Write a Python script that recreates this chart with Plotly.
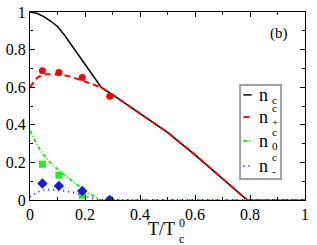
import plotly.graph_objects as go

# curves
T_c = [0, 0.025, 0.05, 0.075, 0.1, 0.125, 0.15, 0.175, 0.2, 0.23, 0.26, 0.3, 0.35, 0.4, 0.473, 0.5, 0.6, 0.7, 0.79, 0.9, 1.0]
n_c = [1.0, 0.993, 0.975, 0.952, 0.923, 0.878, 0.826, 0.774, 0.719, 0.66, 0.598, 0.56, 0.51, 0.46, 0.39, 0.36, 0.24, 0.115, 0.0, 0.0, 0.0]

T_p = [0, 0.01, 0.02, 0.03, 0.04, 0.06, 0.08, 0.1, 0.12, 0.15, 0.2, 0.26, 0.3, 0.35, 0.4, 0.473, 0.5, 0.6, 0.7, 0.79, 0.9, 1.0]
n_p = [0.6, 0.623, 0.64, 0.654, 0.663, 0.669, 0.67, 0.668, 0.665, 0.655, 0.63, 0.598, 0.56, 0.51, 0.46, 0.39, 0.36, 0.24, 0.115, 0.0, 0.0, 0.0]

T_0 = [0, 0.01, 0.02, 0.035, 0.05, 0.075, 0.1, 0.125, 0.15, 0.175, 0.2, 0.23, 0.255, 0.4, 0.6, 0.8, 1.0]
n_0 = [0.37, 0.335, 0.31, 0.27, 0.24, 0.197, 0.163, 0.132, 0.105, 0.077, 0.05, 0.022, 0.0, 0.0, 0.0, 0.0, 0.0]

T_m = [0, 0.015, 0.03, 0.05, 0.07, 0.1, 0.15, 0.2, 0.25, 0.4, 0.6, 0.8, 1.0]
n_m = [0.017, 0.033, 0.045, 0.052, 0.055, 0.053, 0.043, 0.02, 0.0, 0.0, 0.0, 0.0, 0.0]

# simulation points
T_pts = [0.045, 0.105, 0.19, 0.29]
p_pts = [0.687, 0.678, 0.652, 0.552]
z_pts = [0.19, 0.132, 0.025, 0.0]
m_pts = [0.088, 0.075, 0.048, 0.0]

x_ticks = [0, 0.2, 0.4, 0.6, 0.8, 1]
x_labels = ["0", "0.2", "0.4", "0.6", "0.8", "1"]
y_ticks = [0, 0.2, 0.4, 0.6, 0.8, 1]
y_labels = ["0", "0.2", "0.4", "0.6", "0.8", "1"]

# legend entries: (main, superscript, subscript)
legend_labels = [("n", "", "c"), ("n", "c", "+"), ("n", "c", "0"), ("n", "c", "-")]
colors = ["black", "red", "#22ee22", "#2222ee"]
dashes = ["solid", "6px,4px", "4px,2px,1px,2px", "1px,4px"]
widths = [1.5, 2, 2, 2]

FONT = "Liberation Serif"
fig = go.Figure()

for T, n, c, d, w in zip([T_c, T_p, T_0, T_m], [n_c, n_p, n_0, n_m], colors, dashes, widths):
    fig.add_trace(go.Scatter(x=T, y=n, mode="lines", showlegend=False,
                             line=dict(color=c, width=w, dash=d)))

fig.add_trace(go.Scatter(x=T_pts, y=p_pts, mode="markers", showlegend=False,
                         marker=dict(color="red", size=7, symbol="circle")))
fig.add_trace(go.Scatter(x=T_pts, y=z_pts, mode="markers", showlegend=False,
                         marker=dict(color="#22ee22", size=7, symbol="square")))
fig.add_trace(go.Scatter(x=T_pts, y=m_pts, mode="markers", showlegend=False,
                         marker=dict(color="#1a1adf", size=8, symbol="diamond")))

axis_common = dict(
    showgrid=False, zeroline=False, showline=True, linecolor="black", linewidth=1,
    mirror="allticks", ticks="inside", ticklen=5, tickcolor="black", tickwidth=1,
    tickfont=dict(family=FONT, size=16, color="black"), automargin=False,
    minor=dict(ticks="inside", ticklen=3, dtick=0.1, tickcolor="black"),
)

shapes = []
annotations = []
# legend box
shapes.append(dict(type="rect", xref="paper", yref="paper", x0=0.764, x1=0.913, y0=0.112, y1=0.612,
                   line=dict(color="#a0a0a0", width=2), fillcolor="white", layer="above"))
row_y = [0.559, 0.441, 0.314, 0.181]
for ry, c, d, w, (m, sup, sub) in zip(row_y, colors, dashes, widths, legend_labels):
    shapes.append(dict(type="line", xref="paper", yref="paper", x0=0.776, x1=0.806, y0=ry, y1=ry,
                       line=dict(color=c, width=w, dash=d), layer="above"))
    annotations.append(dict(x=0.826, y=ry, xref="paper", yref="paper", text=m, showarrow=False,
                            xanchor="left", yanchor="middle", font=dict(family=FONT, size=18)))
    if sup:
        annotations.append(dict(x=0.872, y=ry + 0.047, xref="paper", yref="paper", text=sup, showarrow=False,
                                xanchor="left", yanchor="middle", font=dict(family=FONT, size=11)))
    annotations.append(dict(x=0.872, y=ry - 0.025, xref="paper", yref="paper", text=sub, showarrow=False,
                            xanchor="left", yanchor="middle", font=dict(family=FONT, size=11)))

# x-axis title T/T^0_c
annotations.append(dict(x=0.478, y=-0.154, xref="paper", yref="paper", text="T/T", showarrow=False,
                        xanchor="center", yanchor="middle", font=dict(family=FONT, size=18)))
annotations.append(dict(x=0.533, y=-0.122, xref="paper", yref="paper", text="0", showarrow=False,
                        xanchor="left", yanchor="middle", font=dict(family=FONT, size=12)))
annotations.append(dict(x=0.535, y=-0.21, xref="paper", yref="paper", text="c", showarrow=False,
                        xanchor="left", yanchor="middle", font=dict(family=FONT, size=12)))
# panel label
annotations.append(dict(x=0.904, y=0.883, xref="paper", yref="paper", text="(b)", showarrow=False,
                        xanchor="center", yanchor="middle", font=dict(family=FONT, size=15)))

fig.update_layout(
    width=317, height=245,
    margin=dict(l=30, r=12, t=12, b=45),
    paper_bgcolor="white", plot_bgcolor="white",
    font=dict(family=FONT, size=15, color="black"),
    xaxis=dict(range=[0, 1], tickvals=x_ticks, ticktext=x_labels, **axis_common),
    yaxis=dict(range=[0, 1], tickvals=y_ticks, ticktext=y_labels, **axis_common),
    showlegend=False,
    shapes=shapes,
    annotations=annotations,
)

fig.write_html("out.html", config={"displayModeBar": False},
               post_script="document.body.style.margin='0';document.body.style.overflow='hidden';")
